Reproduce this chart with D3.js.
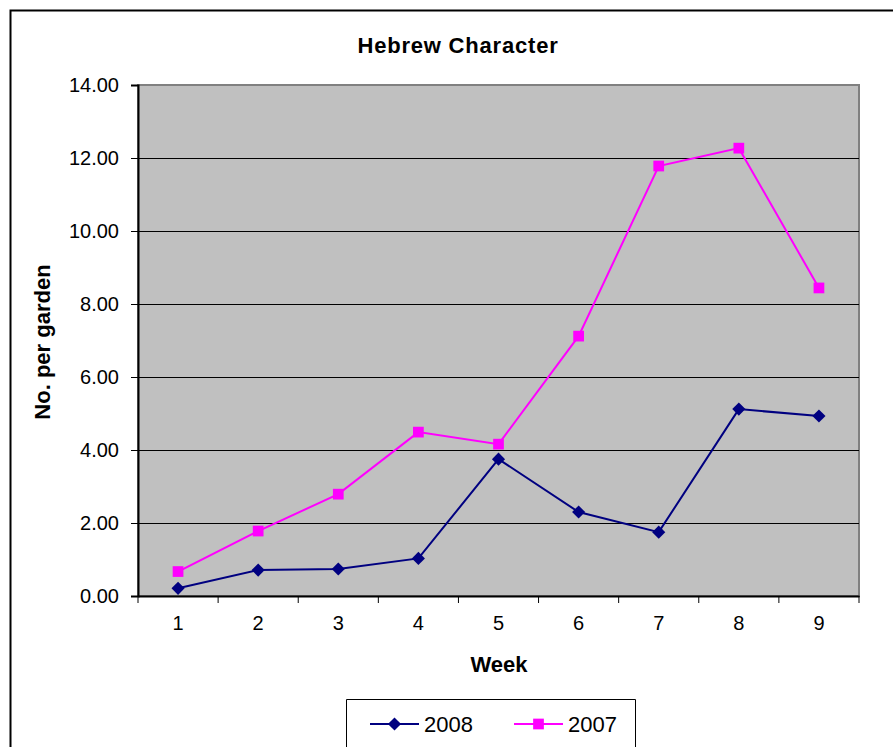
<!DOCTYPE html>
<html>
<head>
<meta charset="utf-8">
<script src="https://cdn.jsdelivr.net/npm/d3@7"></script>
<style>
  html, body { margin: 0; padding: 0; background: #fff; overflow: hidden; }
  svg { display: block; }
  text { fill: #000; }
</style>
</head>
<body>
<svg id="chart"></svg>
<script>
var weeks = ["1", "2", "3", "4", "5", "6", "7", "8", "9"];
var values2008 = [0.21, 0.71, 0.74, 1.03, 3.75, 2.30, 1.75, 5.12, 4.93];
var values2007 = [0.67, 1.78, 2.79, 4.49, 4.16, 7.12, 11.78, 12.27, 8.44];
var yTicks = [0, 2, 4, 6, 8, 10, 12, 14];
var seriesNames = ["2008", "2007"];

var width = 893;
var height = 747;
var margin = { top: 85, right: 34, left: 138, bottom: 151 };
var innerWidth = width - margin.left - margin.right;
var innerHeight = height - margin.top - margin.bottom;
var font = "Liberation Sans, Arial, sans-serif";

var svg = d3.select("#chart")
  .attr("width", width)
  .attr("height", height)
  .attr("font-family", font);

// outer chart border: only top and left edges are visible in the frame
svg.append("path")
  .attr("d", "M10.5," + height + "V10.5H" + width)
  .attr("fill", "none")
  .attr("stroke", "#000")
  .attr("stroke-width", 2);

var x = d3.scaleBand()
  .domain(weeks)
  .range([margin.left, margin.left + innerWidth])
  .padding(0);

var y = d3.scaleLinear()
  .domain([0, 14])
  .range([margin.top + innerHeight, margin.top]);

// plot area
svg.append("rect")
  .attr("x", margin.left)
  .attr("y", margin.top)
  .attr("width", innerWidth)
  .attr("height", innerHeight)
  .attr("fill", "#c0c0c0")
  .attr("stroke", "#808080")
  .attr("stroke-width", 2);

// gridlines
svg.append("g")
  .selectAll("line")
  .data(yTicks.slice(1, -1))
  .enter()
    .append("line")
      .attr("x1", margin.left)
      .attr("x2", margin.left + innerWidth)
      .attr("y1", function(d) { return Math.round(y(d)) + 0.5; })
      .attr("y2", function(d) { return Math.round(y(d)) + 0.5; })
      .attr("stroke", "#000")
      .attr("stroke-width", 1);

// y axis
var yAxis = svg.append("g")
  .attr("transform", "translate(" + margin.left + ",0)")
  .call(d3.axisLeft(y).tickValues(yTicks).tickFormat(d3.format(".2f")).tickSize(7).tickPadding(12))
  .attr("font-size", 20)
  .attr("font-family", font);
yAxis.select(".domain").attr("stroke", "#000").attr("stroke-width", 2);

// x axis: ticks on category boundaries
var xAxis = svg.append("g")
  .attr("transform", "translate(0," + (margin.top + innerHeight) + ")")
  .call(d3.axisBottom(x).tickSize(0).tickPadding(20))
  .attr("font-size", 20)
  .attr("font-family", font);
xAxis.select(".domain").attr("stroke", "#000").attr("stroke-width", 2);

xAxis.selectAll(".bound")
  .data(weeks.concat(["end"]))
  .enter()
    .append("line")
      .attr("class", "bound")
      .attr("x1", function(d, i) { return margin.left + i * x.step(); })
      .attr("x2", function(d, i) { return margin.left + i * x.step(); })
      .attr("y1", 0)
      .attr("y2", 7)
      .attr("stroke", "#000");

var line = d3.line()
  .x(function(d, i) { return x(weeks[i]) + x.bandwidth() / 2; })
  .y(function(d) { return y(d); });

var colors = { "2008": "#000080", "2007": "#ff00ff" };
var data = { "2008": values2008, "2007": values2007 };

seriesNames.slice().reverse().forEach(function(name) {
  svg.append("path")
    .datum(data[name])
    .attr("d", line)
    .attr("fill", "none")
    .attr("stroke", colors[name])
    .attr("stroke-width", 2);
});

var diamond = d3.symbol().type(d3.symbolDiamond2).size(110);
var square = d3.symbol().type(d3.symbolSquare).size(115);

svg.append("g")
  .selectAll("path")
  .data(values2007)
  .enter()
    .append("path")
      .attr("d", square)
      .attr("transform", function(d, i) {
        return "translate(" + (x(weeks[i]) + x.bandwidth() / 2) + "," + y(d) + ")";
      })
      .attr("fill", colors["2007"]);

svg.append("g")
  .selectAll("path")
  .data(values2008)
  .enter()
    .append("path")
      .attr("d", diamond)
      .attr("transform", function(d, i) {
        return "translate(" + (x(weeks[i]) + x.bandwidth() / 2) + "," + y(d) + ")";
      })
      .attr("fill", colors["2008"]);

// titles
svg.append("text")
  .attr("x", 458)
  .attr("y", 53)
  .attr("font-size", 22)
  .attr("font-weight", "bold")
  .style("text-anchor", "middle")
  .style("letter-spacing", "0.8px")
  .text("Hebrew Character");

svg.append("text")
  .attr("x", 499)
  .attr("y", 672)
  .attr("font-size", 22)
  .attr("font-weight", "bold")
  .style("text-anchor", "middle")
  .text("Week");

svg.append("text")
  .attr("transform", "rotate(-90)")
  .attr("x", -342)
  .attr("y", 50)
  .attr("font-size", 22)
  .attr("font-weight", "bold")
  .style("text-anchor", "middle")
  .text("No. per garden");

// legend box, its bottom edge falls outside the frame
var legend = svg.append("g");
legend.append("path")
  .attr("d", "M346.5," + height + "V699.5H635.5V" + height)
  .attr("fill", "#fff")
  .attr("stroke", "#000");

var legendX = [370, 514];
seriesNames.forEach(function(name, i) {
  var g = legend.append("g").attr("transform", "translate(" + legendX[i] + ",724)");
  g.append("line")
    .attr("x1", 0)
    .attr("x2", 49)
    .attr("stroke", colors[name])
    .attr("stroke-width", 2);
  g.append("path")
    .attr("d", name === "2008" ? diamond : square)
    .attr("transform", "translate(24.5,0)")
    .attr("fill", colors[name]);
  g.append("text")
    .attr("x", 54)
    .attr("y", 8)
    .attr("font-size", 22)
    .text(name);
});
</script>
</body>
</html>
